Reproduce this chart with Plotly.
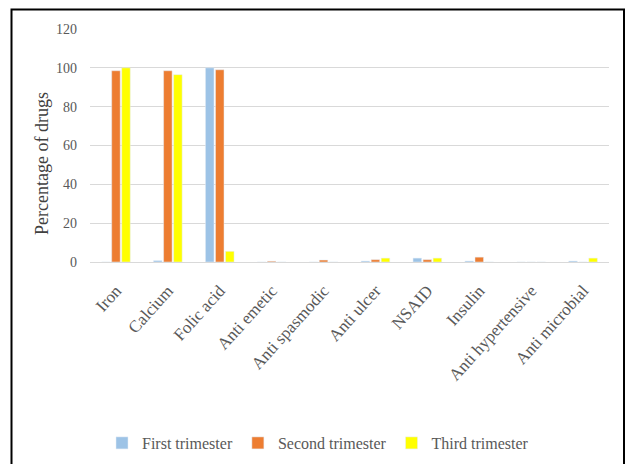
import plotly.graph_objects as go

categories = ["Iron", "Calcium", "Folic acid", "Anti emetic", "Anti spasmodic",
              "Anti ulcer", "NSAID", "Insulin", "Anti hypertensive", "Anti microbial"]
first_trimester = [0, 0.7, 100, 0, 0, 0.5, 2, 0.5, 0, 0.5]
second_trimester = [98.5, 98.5, 99, 0.4, 1, 1.2, 1.2, 2.5, 0, 0]
third_trimester = [100, 96.5, 5.5, 0, 0, 2, 2, 0, 0, 2]
y_ticks = [0, 20, 40, 60, 80, 100, 120]

fig = go.Figure()
fig.add_bar(x=categories, y=first_trimester, name="First trimester", marker_color="#9DC3E6")
fig.add_bar(x=categories, y=second_trimester, name="Second trimester", marker_color="#ED7D31")
fig.add_bar(x=categories, y=third_trimester, name="Third trimester", marker_color="#FFFF00")

W, H = 626, 464
L, T = 90, 29
R = W - 609
B = H - 262
pw, ph = W - L - R, H - T - B


def px(xp):
    return (xp - L) / pw


def py(yp):
    return (T + ph - yp) / ph


fig.update_layout(
    width=W, height=H,
    margin=dict(l=L, r=R, t=T, b=B, autoexpand=False),
    paper_bgcolor="white", plot_bgcolor="white",
    barmode="group", bargap=0.42, bargroupgap=0.15,
    font=dict(family="Liberation Serif", color="#595959"),
    legend=dict(orientation="h", x=px(318), xanchor="center", y=py(443), yanchor="middle",
                font=dict(size=16, color="#595959"), itemwidth=30, traceorder="normal"),
    xaxis=dict(tickangle=-48, tickfont=dict(size=17, color="#595959"), showline=True,
               linecolor="#D9D9D9", showgrid=False, ticks="", automargin=False,
               ticklabelstandoff=11),
    yaxis=dict(range=[0, 120], tickvals=y_ticks, tickfont=dict(size=14, color="#595959"),
               gridcolor="#D9D9D9", zeroline=False, showline=False, ticks="", automargin=False,
               ticklabelstandoff=12),
    annotations=[dict(text="Percentage of drugs", xref="paper", yref="paper",
                      x=px(42), y=py(164), xanchor="center", yanchor="middle",
                      textangle=-90, showarrow=False,
                      font=dict(size=18, color="#404040", family="Liberation Serif"))],
    shapes=[dict(type="rect", xref="paper", yref="paper",
                 x0=px(11.5), x1=px(624), y0=py(480), y1=py(9.5),
                 line=dict(color="black", width=2), fillcolor="rgba(0,0,0,0)", layer="below")],
)
fig.write_html("out.html", config={"displayModeBar": False},
               post_script="document.body.style.margin='0';document.body.style.overflow='hidden';")
